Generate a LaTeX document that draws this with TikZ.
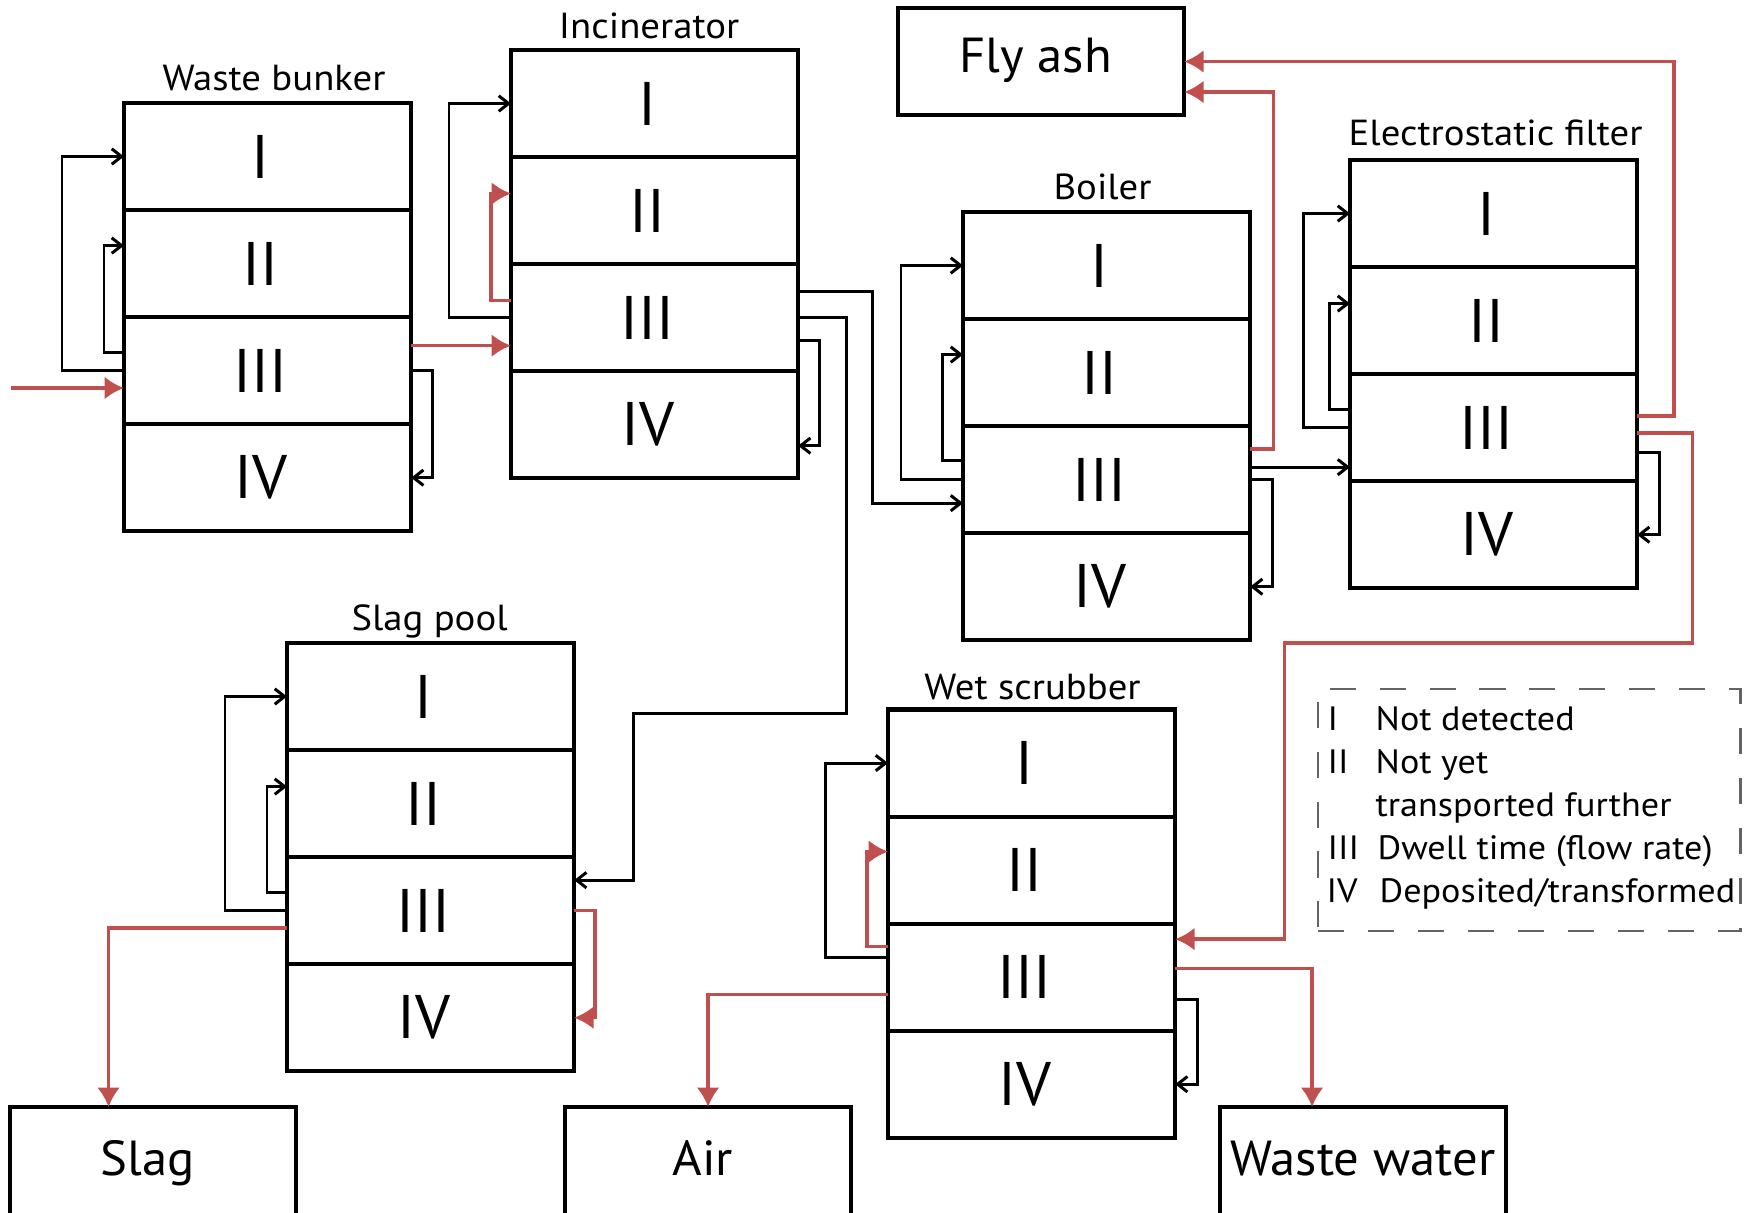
\documentclass[tikz,border=0pt]{standalone}
\usepackage{fontspec}
\setmainfont{PT Sans}[FakeStretch=1.07]
\newfontfamily\outfont{PT Sans}[FakeStretch=1.03]
\newfontfamily\numfont{PT Sans}
\usetikzlibrary{calc,arrows.meta}
\definecolor{myred}{RGB}{192,80,77}
\definecolor{leggray}{RGB}{100,100,100}
\newcommand\mkstack[3]{%
  \node[cell,anchor=north west] (#11) at (#2,#3) {I};
  \node[cell] (#12) at (#11.south) {II};
  \node[cell] (#13) at (#12.south) {III};
  \node[cell] (#14) at (#13.south) {IV};
}
\begin{document}
\begin{tikzpicture}[x=0.01cm,y=-0.01cm,
  cell/.style={draw,line width=1.15pt,minimum width=2.87cm,minimum height=1.07cm,inner sep=0pt,outer sep=0pt,anchor=north,font=\numfont\fontsize{17.5}{17.5}\selectfont,execute at end node={\hspace{4pt}}},
  ttl/.style={font=\fontsize{10.3}{12}\selectfont,anchor=base,inner sep=0pt},
  outbox/.style={draw,line width=1.15pt,minimum width=2.86cm,minimum height=1.16cm,inner sep=0pt,outer sep=0pt,anchor=north west,font=\outfont\fontsize{14}{14}\selectfont,text height=0.8em,text depth=0.2em},
  blk/.style={line width=0.85pt,-{Straight Barb[length=2.8pt,width=4.4pt]}},
  rd/.style={myred,line width=1pt,-{Latex[length=5.5pt,width=6.5pt]}},
  leg/.style={font=\fontsize{9.6}{11}\selectfont,anchor=base west,inner sep=0pt}
]
\useasboundingbox (0,0) rectangle (1756,1213);

% stacks
\mkstack{wb}{124}{103}
\mkstack{inc}{511}{50}
\mkstack{bo}{963}{212}
\mkstack{esp}{1350}{160}
\mkstack{sp}{287}{643}
\mkstack{ws}{888}{709.5}

% titles
\node[ttl] (wbt) at ($(wb1.north)+(6.5,-12)$) {Waste bunker};
\node[ttl] (inct) at ($(inc1.north)+(-5.5,-11)$) {Incinerator};
\node[ttl] (bot) at ($(bo1.north)+(-4,-12)$) {Boiler};
\node[ttl] (espt) at ($(esp1.north)+(2,-14.5)$) {Electrostatic filter};
\node[ttl] (spt) at ($(sp1.north)+(-1,-12.5)$) {Slag pool};
\node[ttl] (wst) at ($(ws1.north)+(1,-9.5)$) {Wet scrubber};

% output boxes
\node[outbox,minimum height=1.07cm,execute at end node={\hspace{3pt}}] (fly) at (898,8) {Fly ash};
\node[outbox,execute at end node={\hspace{3pt}}] (slag) at (10,1107) {Slag};
\node[outbox,execute at end node={\hspace{3pt}}] (air) at (565,1107) {Air};
\node[outbox] (ww) at (1220,1107) {Waste water};

% legend
\node[draw=leggray,line width=0.7pt,dash pattern=on 7.4pt off 6.8pt,anchor=north west,minimum width=4.22cm,minimum height=2.415cm,inner sep=0pt] (legbox) at (1317,688) {};
\node[leg] (l1n) at (1327,731) {I};
\node[leg] (l1t) at (1375,731) {Not detected};
\node[leg] (l2n) at (1327,774) {II};
\node[leg] (l2t) at (1375,774) {Not yet};
\node[leg] (l2u) at (1375,817) {transported further};
\node[leg] (l3n) at (1327,860) {III};
\node[leg] (l3t) at (1377,860) {Dwell time (flow rate)};
\node[leg] (l4n) at (1326,903) {IV};
\node[leg] (l4t) at (1379,903) {Deposited/transformed};

% Waste bunker
\coordinate (feed) at (11,388);
\draw[rd] (feed) -- (feed -| wb3.west);
\draw[blk] (wb3.west) -- ++(-62,0) |- (wb1.west);
\draw[blk] ($(wb3.west)+(0,-18)$) -- ++(-20,0) |- ($(wb2.west)+(0,-18)$);
\draw[blk] (wb3.east) -- ++(21,0) |- (wb4.east);
\coordinate (w2i) at ($(wb3.east)+(0,-25)$);
\draw[rd] (w2i) -- (w2i -| inc3.west);

% Incinerator
\draw[blk] (inc3.west) -- ++(-62,0) |- (inc1.west);
\draw[rd] ($(inc3.west)+(0,-17)$) -- ++(-20,0) |- ($(inc2.west)+(0,-17)$);
\draw[blk] ($(inc3.east)+(0,23)$) -- ++(21,0) |- ($(inc4.east)+(0,21)$);
\draw[blk] ($(inc3.east)+(0,-26.5)$) -- ++(74,0) |- ($(bo3.west)+(0,23.5)$);
\draw[blk] (inc3.east) -- ++(48,0) -- ++(0,396) -- ++(-213,0) |- ($(sp3.east)+(0,-30.5)$);

% Boiler
\draw[blk] (bo3.west) -- ++(-62,0) |- (bo1.west);
\draw[blk] ($(bo3.west)+(0,-19.5)$) -- ++(-20.5,0) |- ($(bo2.west)+(0,-18)$);
\draw[rd] ($(bo3.east)+(0,-30.5)$) -- ++(23.5,0) |- ($(fly.east)+(0,30.5)$);
\coordinate (b2e) at ($(bo3.east)+(0,-12.5)$);
\draw[blk] (b2e) -- (b2e -| esp3.west);
\draw[blk] (bo3.east) -- ++(22,0) |- (bo4.east);

% Electrostatic filter
\draw[blk] (esp3.west) -- ++(-46.5,0) |- (esp1.west);
\draw[blk] ($(esp3.west)+(0,-18)$) -- ++(-20.5,0) |- ($(esp2.west)+(0,-17)$);
\draw[rd] ($(esp3.east)+(0,-11.5)$) -- ++(37,0) |- (fly.east);
\draw[rd] ($(esp3.east)+(0,5.5)$) -- ++(55.5,0) -- ++(0,210) -- ++(-408,0) |- ($(ws3.east)+(0,-38)$);
\draw[blk] ($(esp3.east)+(0,25)$) -- ++(22,0) |- (esp4.east);

% Wet scrubber
\draw[blk] ($(ws3.west)+(0,-19.5)$) -- ++(-62.5,0) |- (ws1.west);
\draw[rd] ($(ws3.west)+(0,-30.5)$) -- ++(-21,0) |- ($(ws2.west)+(0,-18.5)$);
\draw[rd] ($(ws3.west)+(0,17.5)$) -| (air.north);
\draw[rd] ($(ws3.east)+(0,-8.5)$) -| ($(ww.north)+(-51,0)$);
\draw[blk] ($(ws3.east)+(0,22.5)$) -- ++(22.5,0) |- (ws4.east);

% Slag pool
\draw[blk] (sp3.west) -- ++(-62,0) |- (sp1.west);
\draw[blk] ($(sp3.west)+(0,-18.5)$) -- ++(-20,0) |- ($(sp2.west)+(0,-17)$);
\draw[rd] ($(sp3.west)+(0,17.5)$) -| ($(slag.north)+(-44.5,0)$);
\draw[rd] (sp3.east) -- ++(21,0) |- (sp4.east);
\end{tikzpicture}
\end{document}
